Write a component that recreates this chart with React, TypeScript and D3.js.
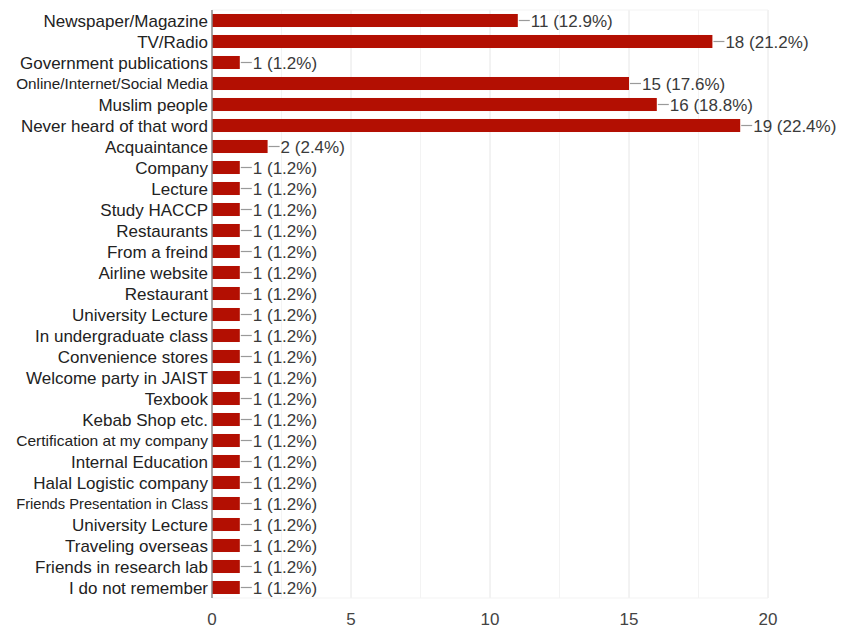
import React, { useMemo } from "react";
import * as d3 from "d3";

const categories = [
  "Newspaper/Magazine",
  "TV/Radio",
  "Government publications",
  "Online/Internet/Social Media",
  "Muslim people",
  "Never heard of that word",
  "Acquaintance",
  "Company",
  "Lecture",
  "Study HACCP",
  "Restaurants",
  "From a freind",
  "Airline website",
  "Restaurant",
  "University Lecture",
  "In undergraduate class",
  "Convenience stores",
  "Welcome party in JAIST",
  "Texbook",
  "Kebab Shop etc.",
  "Certification at my company",
  "Internal Education",
  "Halal Logistic company",
  "Friends Presentation in Class",
  "University Lecture",
  "Traveling overseas",
  "Friends in research lab",
  "I do not remember",
];

const counts = [11, 18, 1, 15, 16, 19, 2, 1, 1, 1, 1, 1, 1, 1, 1, 1, 1, 1, 1, 1, 1, 1, 1, 1, 1, 1, 1, 1];

const percents = [
  "12.9", "21.2", "1.2", "17.6", "18.8", "22.4", "2.4", "1.2", "1.2", "1.2", "1.2", "1.2", "1.2", "1.2",
  "1.2", "1.2", "1.2", "1.2", "1.2", "1.2", "1.2", "1.2", "1.2", "1.2", "1.2", "1.2", "1.2", "1.2",
];

const majorTicks = [0, 5, 10, 15, 20];
const minorTicks = [2.5, 7.5, 12.5, 17.5];

const W = 841;
const H = 628;
const M = { left: 212, right: 73, top: 10, bottom: 30 };
const FONT = "Arial, 'Liberation Sans', sans-serif";
const LABEL_SIZE = 17;
const LABEL_MAX_W = 192;

export default function App() {
  const x = d3.scaleLinear().domain([0, 20]).range([M.left, W - M.right]);
  const idx = categories.map((_, i) => String(i));
  const y = d3
    .scaleBand<string>()
    .domain(idx)
    .range([M.top, H - M.bottom])
    .paddingInner(0.38)
    .paddingOuter(0.19);

  const labelSizes = useMemo(() => {
    const canvas = document.createElement("canvas");
    const ctx = canvas.getContext("2d");
    return categories.map((c) => {
      if (!ctx) return LABEL_SIZE;
      ctx.font = `${LABEL_SIZE}px Arial, 'Liberation Sans', sans-serif`;
      const w = ctx.measureText(c).width;
      return w > LABEL_MAX_W ? (LABEL_SIZE * LABEL_MAX_W) / w : LABEL_SIZE;
    });
  }, []);

  const top = M.top;
  const bottom = H - M.bottom;

  return (
    <svg
      width={W}
      height={H}
      style={{ position: "absolute", left: 0, top: 0, background: "#fff" }}
      fontFamily={FONT}
    >
      {/* minor gridlines */}
      {minorTicks.map((t) => (
        <line key={"mn" + t} x1={x(t)} x2={x(t)} y1={top} y2={bottom} stroke="#f3f3f3" strokeWidth={1} />
      ))}
      {/* major gridlines */}
      {majorTicks.slice(1).map((t) => (
        <line key={"mj" + t} x1={x(t)} x2={x(t)} y1={top} y2={bottom} stroke="#e6e6e6" strokeWidth={1} />
      ))}
      <line x1={M.left} x2={x(20)} y1={top} y2={top} stroke="#f3f3f3" strokeWidth={1} />
      <line x1={M.left} x2={x(20)} y1={bottom} y2={bottom} stroke="#f3f3f3" strokeWidth={1} />

      {/* bars */}
      {counts.map((v, i) => {
        const by = y(String(i))!;
        const bh = y.bandwidth();
        const x1 = x(v);
        const cy = by + bh / 2;
        return (
          <g key={i}>
            <rect x={x(0)} y={by} width={x1 - x(0)} height={bh} fill="#b30f02" />
            <line x1={x1 + 1} x2={x1 + 12} y1={cy} y2={cy} stroke="#9a9a9a" strokeWidth={1.2} />
            <text x={x1 + 13} y={cy} dy="0.36em" fontSize={17} fill="#3a3a3a">
              {`${v} (${percents[i]}%)`}
            </text>
            <text
              x={M.left - 4}
              y={cy}
              dy="0.36em"
              textAnchor="end"
              fontSize={labelSizes[i]}
              fill="#222"
            >
              {categories[i]}
            </text>
          </g>
        );
      })}

      {/* axis line */}
      <line x1={x(0)} x2={x(0)} y1={top} y2={bottom} stroke="#888" strokeWidth={1.5} />

      {/* x tick labels */}
      {majorTicks.map((t) => (
        <text key={"tl" + t} x={x(t)} y={619} dy="0.36em" textAnchor="middle" fontSize={17} fill="#444">
          {t}
        </text>
      ))}
    </svg>
  );
}
